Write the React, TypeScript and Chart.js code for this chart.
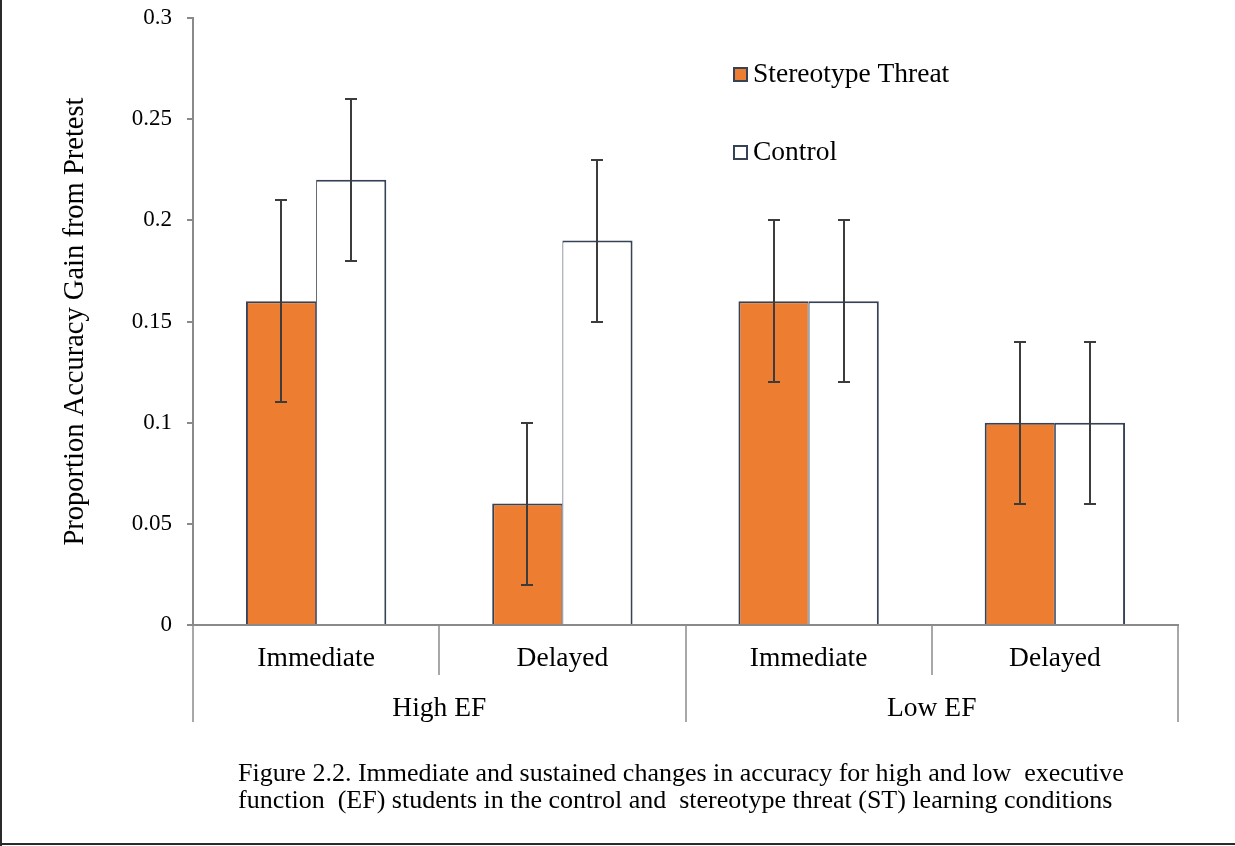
import React, { useEffect, useRef } from 'react';
import { Chart, registerables } from 'chart.js';

Chart.register(...registerables);

// ---- data ----
const subCategories = ['Immediate', 'Delayed', 'Immediate', 'Delayed'];
const groupLabels = ['High EF', 'Low EF'];
const groupSizes = [2, 2];

const seriesNames = ['Stereotype Threat', 'Control'];
const stereotypeThreat = [0.16, 0.06, 0.16, 0.1];
const stereotypeThreatErr = [0.05, 0.04, 0.04, 0.04];
const control = [0.22, 0.19, 0.16, 0.1];
const controlErr = [0.04, 0.04, 0.04, 0.04];

const yMin = 0;
const yMax = 0.3;
const yStep = 0.05;

const yTitle = 'Proportion Accuracy Gain from Pretest';
const captionLines = [
  'Figure 2.2. Immediate and sustained changes in accuracy for high and low  executive',
  'function  (EF) students in the control and  stereotype threat (ST) learning conditions',
];

// ---- styling ----
const W = 1235;
const H = 846;
const SERIF = '"Liberation Serif", "Times New Roman", Times, serif';
const ORANGE = '#ED7D31';
const BAR_EDGE = '#364256';
const AXIS_GRAY = '#8A8A8A';
const SEP_GRAY = '#A8A8A8';
const ERR_COLOR = '#3C3C3C';
const errorsByDataset = [stereotypeThreatErr, controlErr];

const figurePlugin = {
  id: 'figureExtras',
  beforeDraw(chart: any) {
    const { ctx } = chart;
    ctx.save();
    ctx.fillStyle = '#ffffff';
    ctx.fillRect(0, 0, chart.width, chart.height);
    ctx.restore();
  },
  afterDatasetsDraw(chart: any) {
    const { ctx } = chart;
    const y = chart.scales.y;
    ctx.save();
    ctx.strokeStyle = ERR_COLOR;
    ctx.lineWidth = 2;
    chart.data.datasets.forEach((ds: any, d: number) => {
      const meta = chart.getDatasetMeta(d);
      const errs = errorsByDataset[d];
      meta.data.forEach((bar: any, i: number) => {
        const v = ds.data[i];
        const e = errs[i];
        const x = Math.round(bar.x);
        const yHi = Math.round(y.getPixelForValue(v + e));
        const yLo = Math.round(y.getPixelForValue(v - e));
        ctx.beginPath();
        ctx.moveTo(x, yHi);
        ctx.lineTo(x, yLo);
        ctx.moveTo(x - 6, yHi);
        ctx.lineTo(x + 6, yHi);
        ctx.moveTo(x - 6, yLo);
        ctx.lineTo(x + 6, yLo);
        ctx.stroke();
      });
    });
    ctx.restore();
  },
  afterDraw(chart: any) {
    const { ctx, chartArea } = chart;
    const x = chart.scales.x;
    const n = subCategories.length;
    const step = (chartArea.right - chartArea.left) / n;
    const base = chartArea.bottom;

    ctx.save();
    // category separators below the axis
    ctx.strokeStyle = SEP_GRAY;
    ctx.lineWidth = 2;
    const groupEdges = new Set<number>([0]);
    let acc = 0;
    groupSizes.forEach((g) => {
      acc += g;
      groupEdges.add(acc);
    });
    for (let k = 0; k <= n; k++) {
      const px = Math.round(chartArea.left + k * step);
      const len = groupEdges.has(k) ? 97 : 50;
      ctx.beginPath();
      ctx.moveTo(px, base + 1);
      ctx.lineTo(px, base + len);
      ctx.stroke();
    }

    // sub-category labels
    ctx.fillStyle = '#000';
    ctx.textAlign = 'center';
    ctx.textBaseline = 'middle';
    ctx.font = `27.5px ${SERIF}`;
    subCategories.forEach((lab, i) => {
      ctx.fillText(lab, x.getPixelForValue(i), base + 34);
    });

    // group labels
    let start = 0;
    groupLabels.forEach((lab, g) => {
      const end = start + groupSizes[g];
      const cx = chartArea.left + ((start + end) / 2) * step;
      ctx.fillText(lab, cx, base + 84);
      start = end;
    });

    // legend
    ctx.textAlign = 'left';
    chart.data.datasets.forEach((ds: any, d: number) => {
      const top = 67 + d * 78;
      ctx.fillStyle = ds.backgroundColor;
      ctx.fillRect(733, top, 15, 15);
      ctx.strokeStyle = BAR_EDGE;
      ctx.lineWidth = 2;
      ctx.strokeRect(734, top + 1, 13, 13);
      ctx.fillStyle = '#000';
      ctx.fillText(ds.label, 753, top + 8);
    });

    // caption
    ctx.font = `26px ${SERIF}`;
    captionLines.forEach((line, i) => {
      ctx.fillText(line, 238, 774 + i * 27);
    });

    // figure frame (left and bottom edges)
    ctx.fillStyle = '#2a2a2a';
    ctx.fillRect(0, 0, 2, H);
    ctx.fillRect(0, H - 3, W, 2);
    ctx.restore();
  },
};

export default function App() {
  const canvasRef = useRef<HTMLCanvasElement | null>(null);

  useEffect(() => {
    const canvas = canvasRef.current;
    if (!canvas) return;
    const chart = new Chart(canvas, {
      type: 'bar',
      data: {
        labels: subCategories,
        datasets: [
          {
            label: seriesNames[0],
            data: stereotypeThreat,
            backgroundColor: ORANGE,
            borderColor: BAR_EDGE,
            borderWidth: { top: 2, left: 2, right: 1, bottom: 0 },
            borderSkipped: 'start',
            categoryPercentage: 0.57,
            barPercentage: 1,
          },
          {
            label: seriesNames[1],
            data: control,
            backgroundColor: '#FFFFFF',
            borderColor: BAR_EDGE,
            borderWidth: { top: 2, left: 1, right: 2, bottom: 0 },
            borderSkipped: 'start',
            categoryPercentage: 0.57,
            barPercentage: 1,
          },
        ],
      },
      options: {
        responsive: false,
        animation: false,
        devicePixelRatio: 1,
        layout: { padding: { top: 18, right: 57, left: 0, bottom: 0 } },
        plugins: {
          legend: { display: false },
          tooltip: { enabled: false },
        },
        scales: {
          x: {
            grid: { display: false },
            border: { display: true, color: AXIS_GRAY, width: 2 },
            ticks: { display: false },
            afterFit: (s: any) => {
              s.height = 221;
              s.paddingLeft = 0;
              s.paddingRight = 0;
            },
          },
          y: {
            min: yMin,
            max: yMax,
            ticks: {
              stepSize: yStep,
              padding: 15,
              color: '#000',
              font: { family: SERIF, size: 23 },
              callback: (v: any) => String(Number(Number(v).toFixed(2))),
            },
            grid: {
              drawOnChartArea: false,
              drawTicks: true,
              tickLength: 6,
              color: AXIS_GRAY,
              lineWidth: 2,
            },
            border: { display: true, color: AXIS_GRAY, width: 2 },
            title: {
              display: true,
              text: yTitle,
              color: '#000',
              font: { family: SERIF, size: 28.5 },
              padding: { top: 58, bottom: 0 },
            },
            afterFit: (s: any) => {
              s.width = 193;
              s.paddingTop = 0;
              s.paddingBottom = 0;
            },
          },
        },
      },
      plugins: [figurePlugin],
    });
    return () => chart.destroy();
  }, []);

  return (
    <div style={{ position: 'absolute', left: 0, top: 0, width: W, height: H, background: '#fff' }}>
      <canvas ref={canvasRef} width={W} height={H} style={{ display: 'block' }} />
    </div>
  );
}
